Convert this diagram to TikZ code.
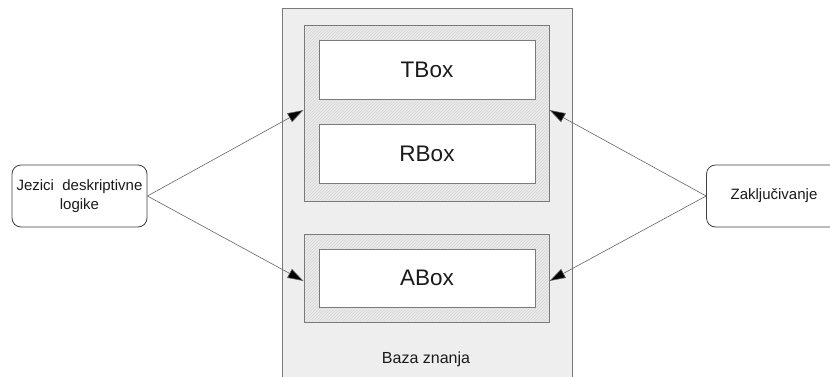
\documentclass[tikz,border=0pt]{standalone}
\usepackage{fontspec}
\setmainfont{Liberation Sans}
\usetikzlibrary{patterns,arrows.meta}
\definecolor{outerfill}{HTML}{EEEEEE}
\definecolor{hatchfill}{HTML}{EAEAEA}
\definecolor{hatchline}{HTML}{D6D6D6}
\definecolor{edge}{HTML}{7A7A7A}
\definecolor{txt}{HTML}{1A1A1A}
\tikzset{
  outerbox/.style={draw=edge, line width=0.9pt, fill=outerfill, minimum width=290pt, minimum height=380pt, inner sep=0pt},
  hatchbox/.style={preaction={fill=hatchfill}, pattern=north east lines, pattern color=hatchline, draw=edge, line width=0.9pt, minimum width=245pt, inner sep=0pt},
  whitebox/.style={draw=edge, line width=0.9pt, fill=white, minimum width=216pt, minimum height=59pt, inner sep=0pt, font=\fontsize{22.5}{26}\selectfont, text=txt},
  sidebox/.style={draw=black!75, line width=0.8pt, fill=white, rounded corners=9pt, minimum width=135pt, minimum height=62pt, inner sep=0pt, align=center, font=\fontsize{15}{19}\selectfont, text=txt},
  conn/.style={draw=black!60, line width=0.6pt, -{Triangle[length=16pt,width=10pt,fill=black]}}
}
\begin{document}
\begin{tikzpicture}[x=1pt,y=-1pt]
\clip (0,0) rectangle (830,376);
\fill[white] (0,0) rectangle (830,376);
\node[outerbox] (K) at (427,198) {};
\node[hatchbox, minimum height=176pt] (U) at (426.5,113) {};
\node[hatchbox, minimum height=88pt] (D) at (426.5,278) {};
\node[whitebox] (T) at (427,69.5) {TBox};
\node[whitebox] (R) at (427,153.5) {RBox};
\node[whitebox, minimum height=58pt] (A) at (427,278) {ABox};
\node[font=\fontsize{16}{19}\selectfont, text=txt] (B) at (426,359) {Baza znanja};
\node[sidebox] (L) at (79.5,196) {Jezici~ deskriptivne\\logike};
\node[sidebox] (Z) at (774,196) {Zaključivanje};
\draw[conn] (L.east) -- ([yshift=3pt]U.west);
\draw[conn] (L.east) -- ([yshift=-3pt]D.west);
\draw[conn] (Z.west) -- ([yshift=3pt]U.east);
\draw[conn] (Z.west) -- ([yshift=-3pt]D.east);
\end{tikzpicture}
\end{document}
